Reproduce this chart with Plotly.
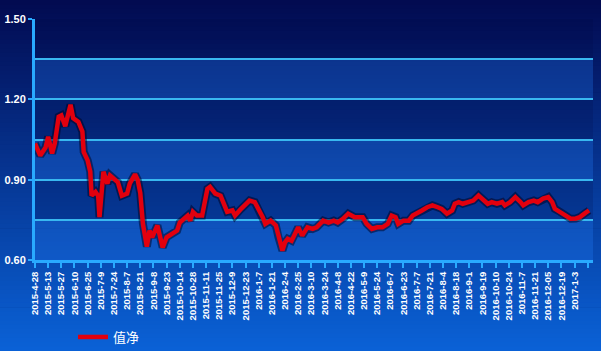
import plotly.graph_objects as go

# trading-day index and net value
day_idx = [0, 4, 8, 10, 13, 15, 18, 20, 23, 25, 27, 29, 33, 36, 37, 40, 42, 43, 46, 48,
           49, 52, 55, 57, 60, 63, 66, 70, 72, 76, 78, 80, 82, 85, 87, 89, 93, 95, 97, 100,
           104, 108, 110, 116, 118, 120, 123, 127, 131, 133, 137, 141, 143, 146, 150, 152, 156, 160, 163, 167,
           170, 173, 175, 179, 183, 185, 188, 190, 192, 195, 198, 200, 203, 207, 211, 214, 219, 223, 227, 230,
           234, 238, 243, 249, 252, 256, 260, 264, 268, 271, 274, 276, 280, 284, 287, 290, 294, 298, 302, 306,
           309, 313, 317, 319, 322, 325, 329, 333, 337, 340, 344, 347, 351, 355, 357, 361, 365, 369, 371, 375,
           379, 382, 386, 390, 393, 395, 399, 403, 407, 411, 414, 418, 421]
nav = [1.035, 0.99, 1.02, 1.06, 0.998, 1.035, 1.135, 1.14, 1.10, 1.14, 1.18, 1.13, 1.116, 1.08, 1.004, 0.972, 0.93, 0.84, 0.854, 0.84,
       0.76, 0.93, 0.885, 0.916, 0.904, 0.89, 0.84, 0.848, 0.885, 0.92, 0.90, 0.85, 0.735, 0.65, 0.71, 0.685, 0.729, 0.68, 0.647, 0.685,
       0.698, 0.71, 0.74, 0.766, 0.747, 0.78, 0.766, 0.766, 0.866, 0.873, 0.848, 0.84, 0.816, 0.78, 0.785, 0.766, 0.788, 0.806, 0.822, 0.816,
       0.791, 0.76, 0.735, 0.747, 0.729, 0.685, 0.635, 0.666, 0.679, 0.672, 0.704, 0.722, 0.691, 0.722, 0.716, 0.722, 0.747, 0.74, 0.747, 0.74,
       0.754, 0.773, 0.76, 0.76, 0.735, 0.716, 0.722, 0.722, 0.735, 0.766, 0.76, 0.735, 0.747, 0.747, 0.766, 0.773, 0.785, 0.797, 0.804, 0.797,
       0.791, 0.773, 0.785, 0.81, 0.816, 0.81, 0.816, 0.822, 0.841, 0.829, 0.81, 0.816, 0.81, 0.816, 0.804, 0.816, 0.835, 0.816, 0.804, 0.816,
       0.822, 0.816, 0.829, 0.835, 0.816, 0.791, 0.78, 0.766, 0.754, 0.755, 0.76, 0.775, 0.785]

tick_labels = ["2015-4-28", "2015-5-13", "2015-5-27", "2015-6-10", "2015-6-25", "2015-7-9", "2015-7-24",
               "2015-8-7", "2015-8-21", "2015-9-8", "2015-9-23", "2015-10-14", "2015-10-28", "2015-11-11",
               "2015-11-25", "2015-12-9", "2015-12-23", "2016-1-7", "2016-1-21", "2016-2-4", "2016-2-25",
               "2016-3-10", "2016-3-24", "2016-4-8", "2016-4-22", "2016-5-9", "2016-5-24", "2016-6-7",
               "2016-6-23", "2016-7-7", "2016-7-21", "2016-8-4", "2016-8-18", "2016-9-1", "2016-9-19",
               "2016-10-10", "2016-10-24", "2016-11-7", "2016-11-21", "2016-12-05", "2016-12-19", "2017-1-3", ""]
tick_step = 10
series_name = "值净"

W, H = 601, 351
ML, MR, MT, MB = 35, 8, 19, 91
pw, ph = W - ML - MR, H - MT - MB

fig = go.Figure()

# shadow under the line
fig.add_trace(go.Scatter(x=day_idx, y=nav, mode="lines", showlegend=False, hoverinfo="skip",
                         line=dict(color="rgba(0,0,30,0.5)", width=8)))
fig.add_trace(go.Scatter(x=day_idx, y=nav, mode="lines", name=series_name,
                         line=dict(color="#e2000e", width=4.5)))

shapes = []
# background vertical gradient over whole figure
top = (2, 10, 80)
bot = (10, 98, 215)
N = 80
y_top = 1 + MT / ph
y_bot = -MB / ph
for i in range(N):
    t0 = i / N
    t1 = (i + 1) / N
    tm = (t0 + t1) / 2
    c = tuple(int(round(top[k] + (bot[k] - top[k]) * tm)) for k in range(3))
    shapes.append(dict(type="rect", xref="paper", yref="paper",
                       x0=-ML / pw - 0.01, x1=1 + MR / pw + 0.01,
                       y0=y_top - (y_top - y_bot) * t1 - 0.003, y1=y_top - (y_top - y_bot) * t0,
                       fillcolor="rgb(%d,%d,%d)" % c, line=dict(width=0), layer="below"))
# alternate bands in the plot area: lighter and darker
for lo in [0.60, 0.90, 1.20]:
    shapes.append(dict(type="rect", xref="paper", yref="y", x0=0, x1=1, y0=lo, y1=lo + 0.15,
                       fillcolor="rgba(40,130,255,0.26)", line=dict(width=0), layer="below"))
for lo in [0.75, 1.05, 1.35]:
    shapes.append(dict(type="rect", xref="paper", yref="y", x0=0, x1=1, y0=lo, y1=lo + 0.15,
                       fillcolor="rgba(0,5,60,0.16)", line=dict(width=0), layer="below"))

fig.update_layout(
    width=W, height=H,
    margin=dict(l=ML, r=MR, t=MT, b=MB, autoexpand=False),
    paper_bgcolor="rgb(2,10,80)",
    plot_bgcolor="rgba(0,0,0,0)",
    shapes=shapes,
    showlegend=True,
    legend=dict(orientation="h", x=(73 - ML) / pw, xanchor="left", y=(H - MB - 337) / ph, yanchor="middle",
                font=dict(family="Noto Sans CJK SC", size=13, color="white"),
                bgcolor="rgba(0,0,0,0)"),
    xaxis=dict(range=[0, 424], tickmode="array",
               tickvals=[i * tick_step for i in range(len(tick_labels))],
               ticktext=tick_labels, tickangle=-90,
               tickfont=dict(family="Arial", size=9.5, color="white", weight="bold"),
               ticks="outside", ticklen=5, tickwidth=2, tickcolor="#29aaff",
               showline=True, linecolor="#29aaff", linewidth=3,
               showgrid=False, zeroline=False, fixedrange=True, automargin=False),
    yaxis=dict(range=[0.6, 1.5], tickmode="linear", tick0=0.6, dtick=0.3, tickformat=".2f",
               tickfont=dict(family="Arial", size=11, color="white", weight="bold"),
               ticks="outside", ticklen=4, tickwidth=2, tickcolor="#29aaff",
               showline=True, linecolor="#29aaff", linewidth=3,
               showgrid=True, gridcolor="#39b8f0", gridwidth=1.5,
               minor=dict(dtick=0.15, tick0=0.6, showgrid=True, gridcolor="#39b8f0", gridwidth=1.5, ticks=""),
               zeroline=False, fixedrange=True, automargin=False),
)

fig.write_html("out.html")
